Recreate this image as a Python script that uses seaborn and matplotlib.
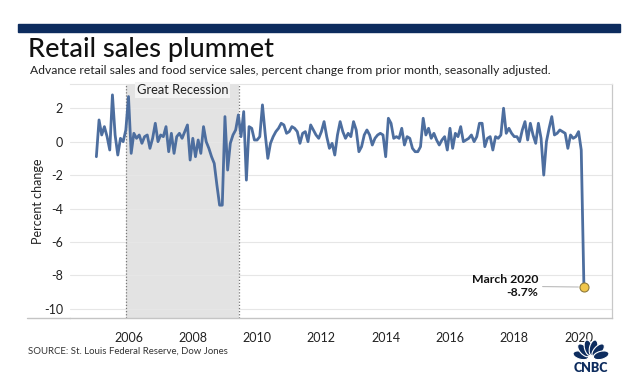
import numpy as np
import pandas as pd
import seaborn as sns
import matplotlib.pyplot as plt
from matplotlib.patches import Rectangle, Ellipse
from matplotlib.lines import Line2D

# ---------------- data (monthly % change, Jan 2005 - Mar 2020) ----------------
start_year = 2005
v2005 = [-0.9, 1.3, 0.4, 0.9, 0.3, -0.5, 2.8, 0.4, -0.8, 0.2, 0.0, 0.7]
v2006 = [2.7, -0.7, 0.5, 0.2, 0.4, -0.1, 0.3, 0.4, -0.4, 0.2, 1.1, 0.0]
v2007 = [0.4, 0.3, 0.9, -0.6, 0.5, -0.7, 0.3, 0.5, 0.2, 0.6, 1.0, -1.1]
v2008 = [0.2, -0.9, 0.1, -0.7, 0.9, 0.0, -0.4, -0.9, -1.3, -2.6, -3.8, -3.8]
v2009 = [1.5, -1.7, -0.1, 0.4, 0.7, 1.6, 0.3, 1.8, -2.3, 0.9, 0.8, 0.1]
v2010 = [0.1, 0.3, 2.2, 0.5, -1.0, -0.1, 0.3, 0.6, 0.8, 1.1, 1.0, 0.5]
v2011 = [0.6, 0.9, 0.8, 0.6, -0.1, 0.5, 0.6, 0.0, 1.0, 0.7, 0.4, 0.2]
v2012 = [0.6, 1.2, 0.3, -0.4, -0.1, -0.8, 0.4, 1.2, 0.6, 0.2, 0.5, 0.3]
v2013 = [1.2, 0.7, -0.6, -0.3, 0.4, 0.7, 0.4, -0.2, 0.2, 0.4, 0.5, 0.4]
v2014 = [-0.9, 1.4, 1.1, 0.2, 0.3, 0.2, 0.8, -0.2, 0.3, 0.2, -0.4, -0.6]
v2015 = [-0.6, -0.3, 1.4, 0.4, 0.8, 0.2, 0.5, 0.1, -0.2, 0.1, 0.3, -0.5]
v2016 = [0.8, -0.4, 0.5, 0.3, 0.9, 0.0, 0.1, 0.2, 0.4, 0.0, 0.3, 1.1]
v2017 = [1.1, -0.3, 0.2, 0.3, -0.5, 0.3, 0.2, 0.4, 2.0, 0.5, 0.8, 0.5]
v2018 = [0.3, 0.3, 0.0, 0.7, 1.2, 0.1, 1.1, 0.4, -0.1, 1.1, 0.2, -2.0]
v2019 = [0.0, 0.8, 1.5, 0.4, 0.5, 0.7, 0.6, 0.5, -0.4, 0.4, 0.2, 0.3]
v2020 = [0.6, -0.5, -8.7]

recession_start = 2005.92
recession_end = 2009.43
recession_label = "Great Recession"
y_ticks = [2, 0, -2, -4, -6, -8, -10]
x_ticks = [2006, 2008, 2010, 2012, 2014, 2016, 2018, 2020]
last_label = "March 2020\n-8.7%"

title = "Retail sales plummet"
subtitle = ("Advance retail sales and food service sales, percent change from prior "
            "month, seasonally adjusted.")
source = "SOURCE: St. Louis Federal Reserve, Dow Jones"

values = (v2005 + v2006 + v2007 + v2008 + v2009 + v2010 + v2011 + v2012 + v2013
          + v2014 + v2015 + v2016 + v2017 + v2018 + v2019 + v2020)
years = [start_year + i / 12 for i in range(len(values))]
df = pd.DataFrame({"year": years, "pct": values})

# ---------------- style ----------------
sns.set_theme(style="white")
plt.rcParams["font.family"] = ["Lato", "DejaVu Sans"]

navy = "#0d2c5e"
line_col = "#4d6e9f"
text_col = "#222222"

fig = plt.figure(figsize=(6.4, 3.75), dpi=100)
W, H = 640, 375

def fx(px):
    return px / W

def fy(py):
    return 1 - py / H

# top navy bar
fig.patches.append(Rectangle((fx(18), fy(32)), fx(620) - fx(18), fy(24) - fy(32),
                             transform=fig.transFigure, color=navy, zorder=0))

fig.text(fx(28), fy(50), title, fontsize=19.5, color="#111111", va="center", ha="left",
         fontweight="medium")
fig.text(fx(30), fy(71), subtitle, fontsize=8.7, color="#222222", va="center", ha="left")
fig.text(fx(28), fy(351), source, fontsize=6.9, color="#333333", va="center", ha="left")

ax = fig.add_axes([fx(70), fy(318), fx(612) - fx(70), fy(84) - fy(318)])

ax.axvspan(recession_start, recession_end, color="#e3e3e3", zorder=0, lw=0)
for xv in (recession_start, recession_end):
    ax.axvline(xv, color="#777777", ls=(0, (1, 1.5)), lw=0.9, zorder=1)

sns.lineplot(data=df, x="year", y="pct", ax=ax, color=line_col, lw=2.0, zorder=3)

ax.set_xlim(2004.18, 2021.04)
ax.set_ylim(-10.55, 3.45)
ax.set_yticks(y_ticks)
ax.set_xticks(x_ticks)
ax.set_yticklabels([str(t) for t in y_ticks])
ax.set_xticklabels([str(t) for t in x_ticks])
ax.yaxis.grid(True, color="#e6e6e6", lw=0.8)
ax.set_axisbelow(True)
ax.tick_params(axis="both", length=0, labelsize=9, colors=text_col)
ax.tick_params(axis="y", pad=5)
ax.tick_params(axis="x", pad=10)
ax.set_xlabel("")
ax.set_ylabel("Percent change", fontsize=9, color=text_col, labelpad=0)

ax.spines["left"].set_visible(False)
ax.spines["top"].set_color("#e4e4e4")
ax.spines["top"].set_linewidth(0.8)
ax.spines["right"].set_color("#c8c8c8")
ax.spines["right"].set_linewidth(0.9)
ax.spines["bottom"].set_color("#c4c4c4")
ax.spines["bottom"].set_linewidth(1.0)
fig.lines.append(Line2D([fx(27), fx(70)], [fy(318), fy(318)], transform=fig.transFigure,
                        color="#c4c4c4", lw=1.0))

ax.text(np.mean([recession_start, recession_end]), 3.1, recession_label, ha="center",
        va="center", fontsize=9.3, color="#222222",
        bbox=dict(facecolor="#f3f3f3", edgecolor="none", pad=1.5), zorder=4)

lx, ly = years[-1], values[-1]
ax.scatter([lx], [ly], s=42, color="#f1c64b", edgecolor="#8f7a3a", linewidth=0.8, zorder=6)
ax.annotate(last_label, xy=(lx, ly), xytext=(-46, 1), textcoords="offset pixels",
            ha="right", va="center", multialignment="right", fontsize=8.8,
            color="#111111", fontweight="bold",
            arrowprops=dict(arrowstyle="-", color="#bbbbbb", lw=0.8, shrinkA=1, shrinkB=4),
            zorder=6)

# CNBC logo (simple peacock + wordmark)
lax = fig.add_axes([fx(570), fy(372), fx(612) - fx(570), fy(332) - fy(372)])
lax.set_xlim(0, 42)
lax.set_ylim(0, 40)
lax.axis("off")
for ang in [165, 133, 104, 76, 47, 15]:
    r = np.deg2rad(ang)
    cx, cy = 21 + 10.5 * np.cos(r), 14 + 10.5 * np.sin(r)
    lax.add_patch(Ellipse((cx, cy), 8.0, 16, angle=ang - 90, facecolor=navy,
                          edgecolor="white", lw=0.8))
lax.text(21, 4, "CNBC", ha="center", va="center", fontsize=9, fontweight="heavy", color=navy)

fig.savefig("out.png", dpi=100)
